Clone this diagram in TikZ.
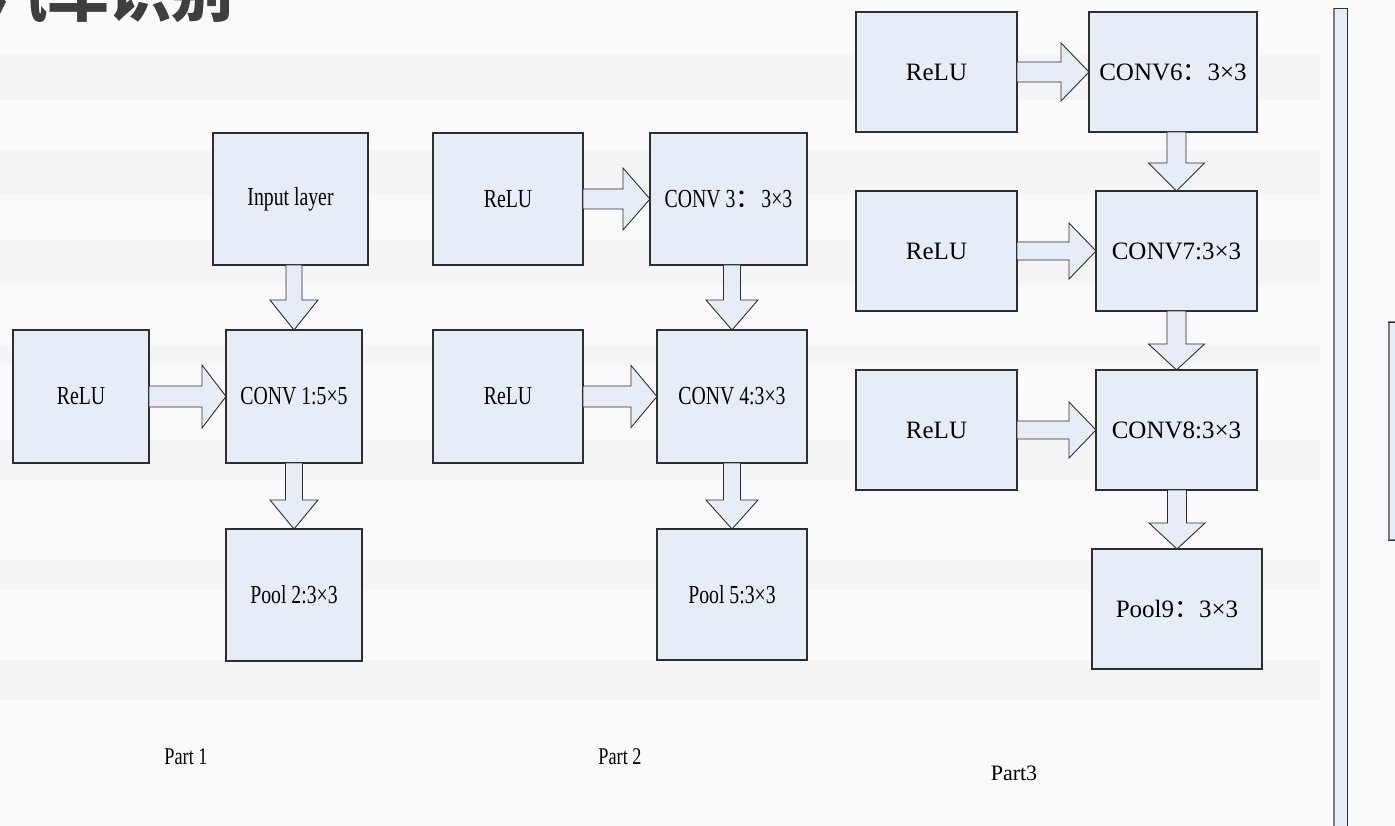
\documentclass[tikz,border=0pt]{standalone}
\usepackage{fontspec}
\setmainfont{Liberation Serif}
\newfontfamily\condfont{Liberation Serif}[FakeStretch=0.76]
\newfontfamily\cjk{Noto Sans CJK SC}
\usetikzlibrary{calc}

\definecolor{boxfill}{HTML}{E6EDF7}
\definecolor{boxline}{HTML}{2E2E2E}
\definecolor{pagebg}{HTML}{FAFAFC}
\definecolor{band}{HTML}{F5F5F8}
\definecolor{titlegray}{HTML}{3E3E3E}
\definecolor{edgegray}{HTML}{7C7C7C}

\tikzset{
  layer/.style={draw=boxline, fill=boxfill, line width=1.1pt, inner sep=0pt, outer sep=0pt, align=center},
  blk/.style={draw=boxline, fill=boxfill, line width=0.9pt, line join=miter},
  oldtxt/.style={font=\condfont\fontsize{26}{30}\selectfont},
  newtxt/.style={font=\fontsize{25}{30}\selectfont},
  partlbl/.style={inner sep=0pt},
}

% block arrow pointing right: from node #1 (east side) to node #2 (west side)
% #3 shaft half-width, #4 head half-width, #5 head length (pt)
\newcommand\blockright[5]{%
  \draw[blk] let \p1=(#2.west), \p2=(#1.east) in
    (\x2,\y1-#3pt) -- (\x1-#5pt,\y1-#3pt) -- (\x1-#5pt,\y1-#4pt) -- (\x1,\y1)
    -- (\x1-#5pt,\y1+#4pt) -- (\x1-#5pt,\y1+#3pt) -- (\x2,\y1+#3pt) -- cycle;}
% block arrow pointing down: from node #1 (south side) to node #2 (north side)
\newcommand\blockdown[5]{%
  \draw[blk] let \p1=(#2.north), \p2=(#1.south) in
    (\x1-#3pt,\y2) -- (\x1-#3pt,\y1+#5pt) -- (\x1-#4pt,\y1+#5pt) -- (\x1,\y1)
    -- (\x1+#4pt,\y1+#5pt) -- (\x1+#3pt,\y1+#5pt) -- (\x1+#3pt,\y2) -- cycle;}

\begin{document}
\begin{tikzpicture}[x=1pt, y=-1pt]
\useasboundingbox (0,0) rectangle (1395,826);
\clip (0,0) rectangle (1395,826);

% page background with soft bands
\fill[pagebg] (0,0) rectangle (1395,826);
\foreach \a/\b in {55/100, 150/195, 240/285, 345/365, 440/480, 560/590, 660/700}
  \fill[band] (0,\a) rectangle (1320,\b);

% heading (cut by the top edge)
\node[anchor=base east, inner sep=0pt, text=titlegray,
      font=\cjk\bfseries\fontsize{62}{62}\selectfont] (title) at (234,17) {汽车识别};

% ---------------- Part 1 ----------------
\node[layer, oldtxt, minimum width=155pt, minimum height=132pt] (in1)   at (290.5,199)  {Input layer};
\node[layer, oldtxt, minimum width=136pt, minimum height=133pt] (relu1) at (81,396.5)   {ReLU};
\node[layer, oldtxt, minimum width=136pt, minimum height=133pt] (conv1) at (294,396.5)  {CONV 1:5×5};
\node[layer, oldtxt, minimum width=136pt, minimum height=132pt] (pool2) at (294,595)    {Pool 2:3×3};

\blockdown{in1}{conv1}{8}{24}{30}
\blockright{relu1}{conv1}{10.5}{31.5}{24}
\blockdown{conv1}{pool2}{8.5}{24}{29}

% ---------------- Part 2 ----------------
\node[layer, oldtxt, minimum width=150pt, minimum height=132pt] (relu2a) at (508,199)    {ReLU};
\node[layer, oldtxt, minimum width=157pt, minimum height=132pt] (conv3)  at (728.5,199)  {CONV 3{\cjk ：}3×3};
\node[layer, oldtxt, minimum width=150pt, minimum height=133pt] (relu2b) at (508,396.5)  {ReLU};
\node[layer, oldtxt, minimum width=150pt, minimum height=133pt] (conv4)  at (732,396.5)  {CONV 4:3×3};
\node[layer, oldtxt, minimum width=150pt, minimum height=131pt] (pool5)  at (732,594.5)  {Pool 5:3×3};

\blockright{relu2a}{conv3}{10}{31}{27}
\blockdown{conv3}{conv4}{8.5}{26}{30}
\blockright{relu2b}{conv4}{10.5}{31}{26}
\blockdown{conv4}{pool5}{8.5}{26}{29}

% ---------------- Part 3 ----------------
\node[layer, newtxt, minimum width=161pt, minimum height=120pt] (relu3a) at (936.5,72)   {ReLU};
\node[layer, newtxt, minimum width=168pt, minimum height=120pt] (conv6)  at (1173,72)    {CONV6{\cjk ：}3×3};
\node[layer, newtxt, minimum width=161pt, minimum height=120pt] (relu3b) at (936.5,251)  {ReLU};
\node[layer, newtxt, minimum width=161pt, minimum height=120pt] (conv7)  at (1176.5,251) {CONV7:3×3};
\node[layer, newtxt, minimum width=161pt, minimum height=120pt] (relu3c) at (936.5,430)  {ReLU};
\node[layer, newtxt, minimum width=161pt, minimum height=120pt] (conv8)  at (1176.5,430) {CONV8:3×3};
\node[layer, newtxt, minimum width=170pt, minimum height=120pt] (pool9)  at (1177,609)   {Pool9{\cjk ：}3×3};

\blockright{relu3a}{conv6}{10}{29}{28}
\blockdown{conv6}{conv7}{9.5}{28}{28}
\blockright{relu3b}{conv7}{9}{28}{27}
\blockdown{conv7}{conv8}{9.5}{28}{26}
\blockright{relu3c}{conv8}{9}{28}{27}
\blockdown{conv8}{pool9}{9.5}{28}{26}

% ---------------- captions ----------------
\node[partlbl, font=\condfont\fontsize{24}{28}\selectfont] (cap1) at (186,757)  {Part 1};
\node[partlbl, font=\condfont\fontsize{24}{28}\selectfont] (cap2) at (620,757)  {Part 2};
\node[partlbl, font=\fontsize{22}{26}\selectfont]          (cap3) at (1014,773) {Part3};

% ---------------- right-hand strip and panel ----------------
\fill[boxfill] (1333,8) rectangle (1347,830);
\draw[edgegray, line width=2pt] (1334,8) -- (1334,830);
\draw[boxline, line width=0.9pt] (1334,8) -- (1347,8) -- (1347,830);
\fill[boxfill] (1388,322) rectangle (1400,540);
\draw[edgegray, line width=2pt] (1400,322) -- (1389,322) -- (1389,540) -- (1400,540);
\draw[boxline, line width=0.8pt] (1400,322) -- (1388,322) (1388,540) -- (1400,540);
\end{tikzpicture}
\end{document}
